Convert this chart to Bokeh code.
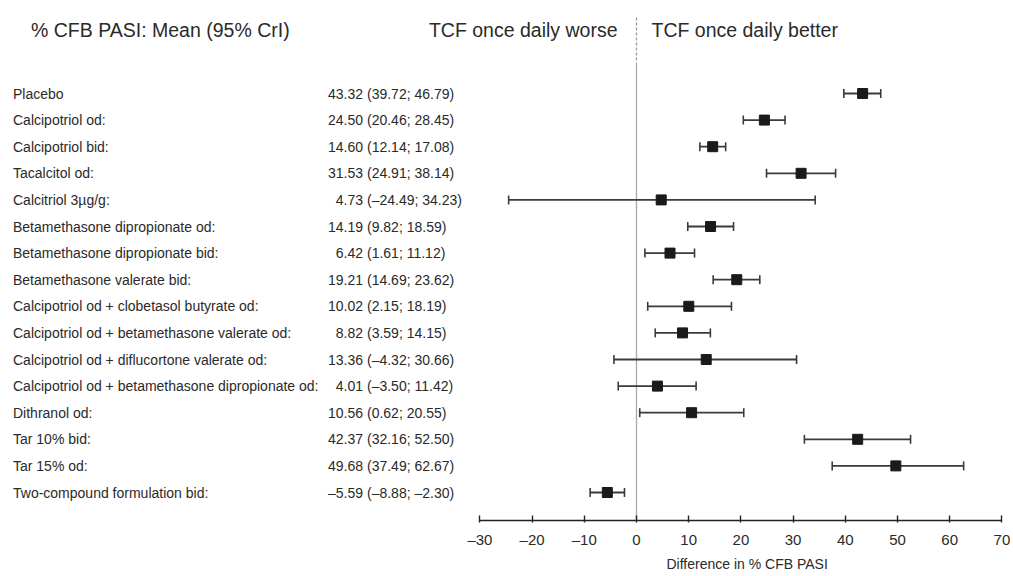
from bokeh.plotting import figure
from bokeh.models import Range1d, LinearAxis, FixedTicker, Title, ColumnDataSource
from bokeh.core.properties import value
from bokeh.embed import file_html
from bokeh.resources import INLINE
import math

treatments = [
    "Placebo",
    "Calcipotriol od:",
    "Calcipotriol bid:",
    "Tacalcitol od:",
    "Calcitriol 3\u00b5g/g:",
    "Betamethasone dipropionate od:",
    "Betamethasone dipropionate bid:",
    "Betamethasone valerate bid:",
    "Calcipotriol od + clobetasol butyrate od:",
    "Calcipotriol od + betamethasone valerate od:",
    "Calcipotriol od + diflucortone valerate od:",
    "Calcipotriol od + betamethasone dipropionate od:",
    "Dithranol od:",
    "Tar 10% bid:",
    "Tar 15% od:",
    "Two-compound formulation bid:",
]
means = [43.32, 24.50, 14.60, 31.53, 4.73, 14.19, 6.42, 19.21, 10.02, 8.82, 13.36, 4.01, 10.56, 42.37, 49.68, -5.59]
lower = [39.72, 20.46, 12.14, 24.91, -24.49, 9.82, 1.61, 14.69, 2.15, 3.59, -4.32, -3.50, 0.62, 32.16, 37.49, -8.88]
upper = [46.79, 28.45, 17.08, 38.14, 34.23, 18.59, 11.12, 23.62, 18.19, 14.15, 30.66, 11.42, 20.55, 52.50, 62.67, -2.30]
x_ticks = [-30, -20, -10, 0, 10, 20, 30, 40, 50, 60, 70]

header_left = "% CFB PASI: Mean (95% CrI)"
header_worse = "TCF once daily worse"
header_better = "TCF once daily better"
x_title = "Difference in % CFB PASI"

def fmt(v):
    return f"{v:.2f}".replace("-", "\u2013")

rows = list(range(len(treatments)))
src = ColumnDataSource(dict(
    row=rows,
    label=treatments,
    mean=means,
    lo=lower,
    hi=upper,
    mean_txt=[fmt(m) for m in means],
    ci_txt=[f"({fmt(a)}; {fmt(b)})" for a, b in zip(lower, upper)],
))

ORIGIN = 0          # page pixel where the canvas starts
PX_PER_UNIT = 5.22
ZERO_PX = 636
FW = 1010
x_start = (ORIGIN - ZERO_PX) / PX_PER_UNIT
x_end = (ORIGIN + FW - ZERO_PX) / PX_PER_UNIT

ROW0_PX = 93
ROW_SP = 26.6
FH = 520
y_top = (ORIGIN - ROW0_PX) / ROW_SP
y_bot = (ORIGIN + FH - ROW0_PX) / ROW_SP

def dx(px):
    return (px - ZERO_PX) / PX_PER_UNIT

def dy(py):
    return (py - ROW0_PX) / ROW_SP

p = figure(frame_width=FW, frame_height=FH, output_backend="svg", toolbar_location=None,
           x_range=Range1d(x_start, x_end), y_range=Range1d(y_bot, y_top),
           x_axis_location=None, y_axis_location=None,
           min_border_left=0, min_border_right=0, min_border_top=0, min_border_bottom=0)
p.outline_line_color = None
p.grid.visible = False
p.background_fill_color = "white"

FONT = value("Liberation Sans")
TXT = "#2a2a2a"

# zero reference line
p.segment(x0=[0], y0=[dy(17)], x1=[0], y1=[dy(62)], line_color="#9a9a9a", line_width=1.3, line_dash="3 2")
p.segment(x0=[0], y0=[dy(62)], x1=[0], y1=[y_bot], line_color="#a8a8a8", line_width=1.3)

# error bars
p.segment(x0="lo", y0="row", x1="hi", y1="row", source=src, line_color="#3a3a3a", line_width=1.8)
p.scatter(x="lo", y="row", source=src, marker="dash", angle=math.pi / 2, size=9,
          line_color="#3a3a3a", line_width=1.6)
p.scatter(x="hi", y="row", source=src, marker="dash", angle=math.pi / 2, size=9,
          line_color="#3a3a3a", line_width=1.6)
p.scatter(x="mean", y="row", source=src, marker="square", size=10,
          fill_color="#1a1a1a", line_color="#1a1a1a")

# row labels and values
LABEL_X = dx(12.5)
VAL_X = dx(362.5)
p.text(x=LABEL_X, y="row", text="label", source=src, text_font=FONT, text_font_size="14px",
       text_color=TXT, text_baseline="middle", text_align="left")
p.text(x=VAL_X, y="row", text="mean_txt", source=src, text_font=FONT, text_font_size="14px",
       text_color=TXT, text_baseline="middle", text_align="right")
p.text(x=VAL_X, y="row", text="ci_txt", source=src, text_font=FONT, text_font_size="14px",
       text_color=TXT, text_baseline="middle", text_align="left", x_offset=4)

# headers
HY = dy(29)
p.text(x=[dx(30.5)], y=[HY], text=[header_left], text_font=FONT, text_font_size="19.5px",
       text_color=TXT, text_baseline="middle", text_align="left")
p.text(x=[dx(617)], y=[HY], text=[header_worse], text_font=FONT, text_font_size="19.5px",
       text_color=TXT, text_baseline="middle", text_align="right")
p.text(x=[dx(651)], y=[HY], text=[header_better], text_font=FONT, text_font_size="19.5px",
       text_color=TXT, text_baseline="middle", text_align="left")

# x axis
ax = LinearAxis(ticker=FixedTicker(ticks=x_ticks), bounds=(x_ticks[0], x_ticks[-1]))
ax.major_label_overrides = {t: str(t).replace("-", "\u2013") for t in x_ticks}
ax.major_label_text_font = "Liberation Sans"
ax.major_label_text_font_size = "15px"
ax.major_label_text_color = TXT
ax.axis_line_color = "#222222"
ax.axis_line_width = 1.6
ax.major_tick_line_color = "#222222"
ax.major_tick_line_width = 1.4
ax.major_tick_in = 5
ax.major_tick_out = 2
ax.minor_tick_line_color = None
ax.major_label_standoff = 8
p.add_layout(ax, "below")

t = Title(text=x_title, align="left", offset=666, text_font="Liberation Sans",
          text_font_size="14px", text_font_style="normal", text_color=TXT, standoff=6)
p.add_layout(t, "below")

open("out.html", "w").write(file_html(p, INLINE))
